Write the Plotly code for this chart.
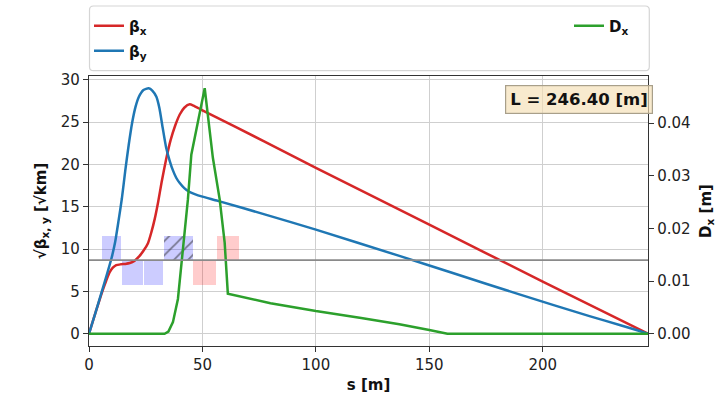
import plotly.graph_objects as go

# ---- optics functions along the beam line (s in metres) ----
s_bx = [0, 3, 6, 7.5, 9, 10.5, 12, 14, 16, 18, 20, 22, 24, 26, 27.5, 29,
        30.5, 32, 34, 36, 38, 40, 42, 44.4, 46, 50, 77.4, 100, 150, 200, 246.4]
beta_x = [0, 2.6, 5.1, 6.2, 7.2, 7.8, 8.1, 8.2, 8.25, 8.35, 8.6, 9.1, 9.8, 10.7, 12.0, 13.6,
          15.6, 17.9, 20.6, 22.9, 24.6, 25.9, 26.7, 27.1, 26.95, 26.4, 22.7, 19.6, 12.9, 6.15, 0]

s_by = [0, 3, 6, 8, 10, 11.5, 13, 14.5, 16, 17.5, 19, 20.5, 22, 24, 26.3, 28, 29.7,
        31, 32.5, 34, 35.6, 37, 38.5, 40, 42, 44, 46.6, 50, 56.8, 77.4, 100, 136.8,
        160, 189.7, 220.6, 235, 242, 246.4]
beta_y = [0, 2.6, 5.3, 7.1, 9.0, 10.8, 13.3, 16.0, 19.3, 22.3, 24.9, 26.8, 28.0, 28.8, 29.0, 28.7, 28.0,
          26.7, 24.3, 22.0, 20.4, 19.3, 18.4, 17.8, 17.2, 16.8, 16.5, 16.2, 15.7, 14.1, 12.3, 9.2,
          7.2, 4.65, 2.08, 0.95, 0.38, 0]

s_dx = [0, 33.3, 35, 37, 39.2, 40.7, 42.2, 43.6, 45.1, 51, 54.6, 57.6, 59.8, 61.2,
        80, 100, 120, 136.8, 150, 156.5, 158, 246.4]
disp_x = [0, 0, 0.0004, 0.0022, 0.0066, 0.0129, 0.0204, 0.0255, 0.0340, 0.0466, 0.0334, 0.0255, 0.0173, 0.0076,
          0.0058, 0.0043, 0.0030, 0.0018, 0.0007, 0.0001, 0, 0]

# ---- lattice elements: start / end [m], side of the lattice axis, family ----
elem_start = [5.7, 14.5, 24.1, 32.9, 45.8, 56.4]
elem_end = [14.3, 23.8, 32.8, 45.8, 56.1, 66.1]
elem_side = [1, -1, -1, 1, -1, 1]
elem_family = ["QB", "QB", "QB", "BH", "QR", "QR"]

line_length = 246.40
lattice_axis = 8.7
elem_height = 2.9

FONT = "DejaVu Sans"
RED, BLUE, GREEN = "#d62728", "#1f77b4", "#2ca02c"

fig = go.Figure()

# lattice boxes (bars drawn around the lattice axis)
fam_style = {
    "QB": dict(color="rgba(0,0,255,0.2)"),
    "QR": dict(color="rgba(255,0,0,0.2)"),
    "BH": dict(color="rgba(0,0,255,0.2)",
               pattern=dict(shape="/", fgcolor="#222222", fillmode="overlay",
                            size=10, solidity=0.18)),
}
for fam in ["QB", "BH", "QR"]:
    idx = [i for i, f in enumerate(elem_family) if f == fam]
    fig.add_trace(go.Bar(
        x=[(elem_start[i] + elem_end[i]) / 2 for i in idx],
        width=[elem_end[i] - elem_start[i] for i in idx],
        y=[elem_side[i] * elem_height for i in idx],
        base=lattice_axis,
        marker=dict(line=dict(width=0), **fam_style[fam]),
        showlegend=False, hoverinfo="skip", yaxis="y",
    ))

fig.add_trace(go.Scatter(x=s_bx, y=beta_x, mode="lines", name="<b>β<sub>x</sub></b>",
                         line=dict(color=RED, width=2.5, shape="spline", smoothing=0.6),
                         legend="legend"))
fig.add_trace(go.Scatter(x=s_by, y=beta_y, mode="lines", name="<b>β<sub>y</sub></b>",
                         line=dict(color=BLUE, width=2.5, shape="spline", smoothing=0.6),
                         legend="legend2"))
fig.add_trace(go.Scatter(x=s_dx, y=disp_x, mode="lines", name="<b>D<sub>x</sub></b>",
                         line=dict(color=GREEN, width=2.5), yaxis="y2",
                         legend="legend3"))

# lattice axis line
fig.add_shape(type="line", xref="paper", x0=0, x1=1, yref="y", y0=lattice_axis, y1=lattice_axis,
              line=dict(color="#8a8a8a", width=1.8), layer="above")

# axis ranges with a 5 % margin around the data
ymax = max(max(beta_x), max(beta_y))
dmax = max(disp_x)
y_range = [-0.05 * ymax, 1.05 * ymax]
d_range = [-0.05 * dmax, 1.05 * dmax]

W, H = 725, 398
ML, MR, MT, MB = 89, 77, 76, 52
PW, PH = W - ML - MR, H - MT - MB


def px_x(px):
    return (px - ML) / PW


def px_y(py):
    return (H - MB - py) / PH


# rounded legend frame
def rounded_rect(x0, y0, x1, y1, r):
    rx, ry = r / PW, r / PH
    X0, X1 = px_x(x0), px_x(x1)
    Y0, Y1 = px_y(y1), px_y(y0)
    return (f"M{X0 + rx},{Y0} L{X1 - rx},{Y0} Q{X1},{Y0} {X1},{Y0 + ry} "
            f"L{X1},{Y1 - ry} Q{X1},{Y1} {X1 - rx},{Y1} L{X0 + rx},{Y1} "
            f"Q{X0},{Y1} {X0},{Y1 - ry} L{X0},{Y0 + ry} Q{X0},{Y0} {X0 + rx},{Y0} Z")


fig.add_shape(type="path", xref="paper", yref="paper",
              path=rounded_rect(89.5, 6, 649.3, 70.7, 4),
              line=dict(color="#d5d5d5", width=1.2), fillcolor="white", layer="above")

leg_common = dict(xanchor="left", yanchor="middle", bgcolor="rgba(0,0,0,0)",
                  borderwidth=0, font=dict(family=FONT, size=15, color="#111"),
                  itemclick=False, itemdoubleclick=False)

fig.update_layout(
    width=W, height=H,
    margin=dict(l=ML, r=MR, t=MT, b=MB, autoexpand=False),
    paper_bgcolor="white", plot_bgcolor="white",
    barmode="overlay", bargap=0,
    font=dict(family=FONT, size=15, color="#222"),
    legend=dict(x=px_x(89), y=px_y(26), **leg_common),
    legend2=dict(x=px_x(89), y=px_y(51), **leg_common),
    legend3=dict(x=px_x(569), y=px_y(26), **leg_common),
    xaxis=dict(range=[0, line_length], dtick=50, tick0=0,
               showgrid=True, gridcolor="#cfcfcf", gridwidth=1.4,
               showline=True, linecolor="#333", linewidth=1.3, mirror=True,
               ticks="outside", ticklen=5, tickcolor="#333", zeroline=False,
               tickfont=dict(family=FONT, size=15, color="#222"),
               title=dict(text="<b>s [m]</b>", font=dict(family=FONT, size=15, color="#111"),
                          standoff=6)),
    yaxis=dict(range=y_range, dtick=5, tick0=0,
               showgrid=True, gridcolor="#cfcfcf", gridwidth=1.4,
               showline=True, linecolor="#333", linewidth=1.3, mirror=True,
               ticks="outside", ticklen=5, tickcolor="#333", zeroline=False,
               tickfont=dict(family=FONT, size=15, color="#222"),
               title=dict(text="<b>√β<sub>x, y</sub> [√km]</b>",
                          font=dict(family=FONT, size=15, color="#111"), standoff=10)),
    yaxis2=dict(range=d_range, dtick=0.01, tick0=0, tickformat=".2f",
                overlaying="y", side="right", showgrid=False, zeroline=False,
                showline=True, linecolor="#333", linewidth=1.3,
                ticks="outside", ticklen=5, tickcolor="#333",
                tickfont=dict(family=FONT, size=15, color="#222"),
                title=dict(text="<b>D<sub>x</sub> [m]</b>",
                           font=dict(family=FONT, size=15, color="#111"), standoff=10)),
    annotations=[dict(
        text=f"<b>L = {line_length:.2f} [m]</b>", xref="paper", yref="paper",
        x=px_x(578.6), y=px_y(99.3), xanchor="center", yanchor="middle",
        showarrow=False, font=dict(family=FONT, size=16.5, color="#111"),
        bgcolor="rgba(245,222,179,0.65)", bordercolor="#a89f8a", borderwidth=1.2,
        borderpad=4,
    )],
)

fig.write_html("out.html")
